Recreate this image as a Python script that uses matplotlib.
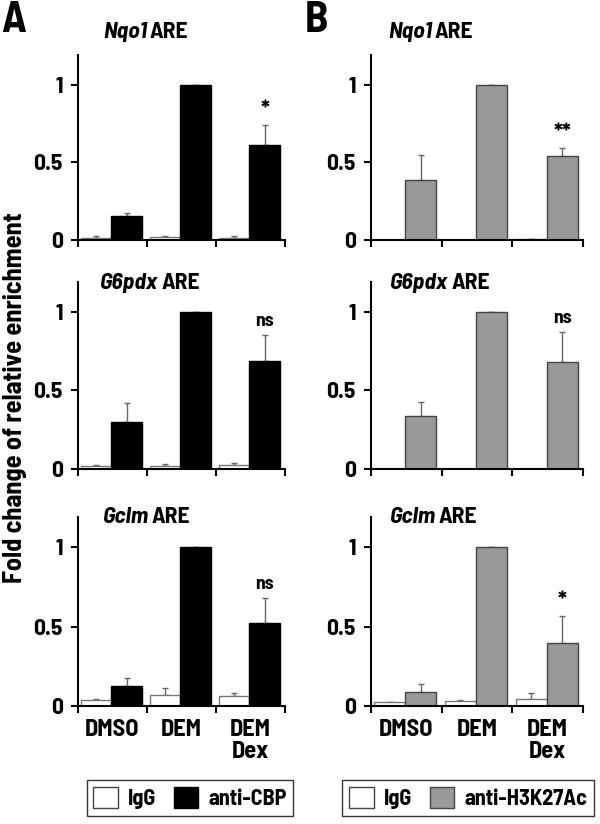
import numpy as np
import matplotlib
matplotlib.use("Agg")
import matplotlib.pyplot as plt
from matplotlib.patches import Patch
from matplotlib import font_manager as fm

fam_names = {f.name for f in fm.fontManager.ttflist}
MAIN = 'Barlow Semi Condensed' if 'Barlow Semi Condensed' in fam_names else 'DejaVu Sans'
FONT = [MAIN, 'DejaVu Sans']
plt.rcParams['font.family'] = FONT
plt.rcParams['font.weight'] = 'bold'

categories = ["DMSO", "DEM", "DEM\nDex"]
genes = ["Nqo1", "G6pdx", "Gclm"]

# Panel A: IgG vs anti-CBP
igg_a = [[0.015, 0.018, 0.015], [0.017, 0.019, 0.023], [0.038, 0.068, 0.061]]
igg_a_err = [[0.010, 0.005, 0.008], [0.008, 0.011, 0.015], [0.009, 0.048, 0.024]]
cbp = [[0.155, 1.0, 0.61], [0.30, 1.0, 0.686], [0.123, 1.0, 0.524]]
cbp_err = [[0.017, 0.0, 0.13], [0.12, 0.0, 0.167], [0.055, 0.0, 0.156]]
sig_a = ["*", "ns", "ns"]

# Panel B: IgG vs anti-H3K27Ac
igg_b = [[0.003, 0.003, 0.004], [0.002, 0.002, 0.003], [0.027, 0.031, 0.046]]
igg_b_err = [[0.0, 0.0, 0.0], [0.0, 0.0, 0.0], [0.0, 0.007, 0.038]]
h3 = [[0.388, 1.0, 0.539], [0.337, 1.0, 0.678], [0.086, 1.0, 0.398]]
h3_err = [[0.157, 0.0, 0.051], [0.09, 0.0, 0.197], [0.05, 0.0, 0.17]]
sig_b = ["**", "ns", "*"]

W, H = 600, 824
fig = plt.figure(figsize=(6.0, 8.24), dpi=100)
renderer = fig.canvas.get_renderer()

rows_px = [(55, 240), (282, 469), (517, 706)]
cols_px = [(78, 285), (371, 583)]
title_y = [32, 283, 517]
title_x0 = [[103, 100, 103], [388, 390, 390]]

panels = [
    (igg_a, igg_a_err, cbp, cbp_err, sig_a, 'black', 'black', '#666666'),
    (igg_b, igg_b_err, h3, h3_err, sig_b, '#999999', '#444444', '#666666'),
]

x = np.arange(3)
bw = 0.44
for c, (igg, igg_e, ab, ab_e, sig, fcol, ecol, errcol) in enumerate(panels):
    x0, x1 = cols_px[c]
    for r in range(3):
        top, bot = rows_px[r]
        ax = fig.add_axes([x0 / W, 1 - bot / H, (x1 - x0) / W, (bot - top) / H])
        xi = x + 0.265
        xa = x + 0.705
        ax.bar(xi, igg[r], width=bw, color='white', edgecolor='#777777', linewidth=1.0, zorder=2)
        ax.bar(xa, ab[r], width=bw, color=fcol, edgecolor=ecol, linewidth=1.0, zorder=2)
        ie = np.array(igg_e[r])
        ae = np.array(ab_e[r])
        ax.errorbar(xi, igg[r], yerr=[np.zeros(3), ie], fmt='none', ecolor=errcol,
                    elinewidth=1.0, capsize=2, capthick=1.0, zorder=1)
        ax.errorbar(xa, ab[r], yerr=[np.zeros(3), ae], fmt='none', ecolor=errcol,
                    elinewidth=1.0, capsize=2, capthick=1.0, zorder=1)
        ax.text(xa[2], ab[r][2] + ab_e[r][2] + 0.03, sig[r], ha='center', va='bottom',
                fontsize=17 if sig[r] != 'ns' else 14, fontweight='bold')
        ax.set_xlim(0, 3)
        ax.set_ylim(0, 1.19)
        ax.set_yticks([0, 0.5, 1])
        ax.set_yticklabels(['0', '0.5', '1'])
        ax.set_xticks([0, 1, 2, 3])
        ax.set_xticks(x + 0.5, minor=True)
        if r == 2:
            ax.set_xticklabels(categories, minor=True, linespacing=1.0)
        ax.set_xticklabels([])
        ax.tick_params(axis='x', which='minor', length=0, pad=9, labelsize=17.5)
        ax.tick_params(axis='x', which='major', direction='out', length=5, width=1.5)
        ax.tick_params(axis='y', direction='out', length=5, width=1.5, labelsize=17, pad=6)
        for s in ['top', 'right']:
            ax.spines[s].set_visible(False)
        for s in ['left', 'bottom']:
            ax.spines[s].set_linewidth(1.5)
        for lab in ax.get_xticklabels(minor=True) + ax.get_yticklabels():
            lab.set_fontweight('bold')
        # title: italic gene + " ARE"
        tx = title_x0[c][r] / W
        ty = 1 - title_y[r] / H
        t1 = fig.text(tx, ty, genes[r], ha='left', va='center', fontsize=17,
                      fontweight='bold', fontstyle='italic')
        bb = t1.get_window_extent(renderer=renderer)
        fig.text(bb.x1 / W + 3 / W, ty, "ARE", ha='left', va='center', fontsize=17,
                 fontweight='bold')

fig.text(1 / W, 1 - 1 / H, "A", ha='left', va='top', fontsize=31, fontweight='bold')
fig.text(305 / W, 1 - 1 / H, "B", ha='left', va='top', fontsize=31, fontweight='bold')
fig.text(15 / W, 1 - 398 / H, "Fold change of relative enrichment", rotation=90,
         ha='center', va='center', fontsize=19, fontweight='bold')

leg_kw = dict(frameon=True, fancybox=False, edgecolor='black', ncol=2,
              handlelength=1.1, handleheight=1.1, handletextpad=0.45, columnspacing=0.8,
              borderpad=0.3, prop={'weight': 'bold', 'size': 16, 'family': FONT})
la = fig.legend(handles=[Patch(facecolor='white', edgecolor='#444444', label='IgG'),
                         Patch(facecolor='black', edgecolor='black', label='anti-CBP')],
                loc='center', bbox_to_anchor=(190 / W, 1 - 798 / H), **leg_kw)
la.get_frame().set_linewidth(1.0)
lb = fig.legend(handles=[Patch(facecolor='white', edgecolor='#444444', label='IgG'),
                         Patch(facecolor='#999999', edgecolor='#444444', label='anti-H3K27Ac')],
                loc='center', bbox_to_anchor=(468 / W, 1 - 798 / H), **leg_kw)
lb.get_frame().set_linewidth(1.0)

fig.savefig("out.png", dpi=100)
